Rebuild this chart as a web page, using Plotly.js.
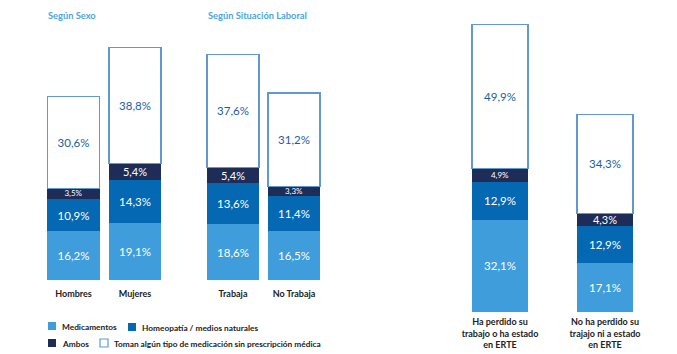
<!DOCTYPE html>
<html>
<head>
<meta charset="utf-8">
<script src="https://cdn.plot.ly/plotly-3.0.1.min.js"></script>
<style>html,body{margin:0;padding:0;background:#fff;}#chart{width:677px;height:354px;}</style>
</head>
<body>
<div id="chart"></div>
<script>
// ---- data ----
const sexoCats = ['Hombres', 'Mujeres'];
const laboralCats = ['Trabaja', 'No Trabaja'];
const erteCats = ['Ha perdido su<br>trabajo o ha estado<br>en ERTE', 'No ha perdido su<br>trajajo ni a estado<br>en ERTE'];
const medicamentos   = [16.2, 19.1, 18.6, 16.5, 32.1, 17.1];
const homeopatia     = [10.9, 14.3, 13.6, 11.4, 12.9, 12.9];
const ambos          = [3.5, 5.4, 5.4, 3.3, 4.9, 4.3];
const sinPrescripcion = [30.6, 38.8, 37.6, 31.2, 49.9, 34.3];
const seriesNames = ['Medicamentos', 'Homeopatía / medios naturales', 'Ambos', 'Toman algún tipo de medicación sin prescripción médica'];
const groupTitles = ['Según Sexo', 'Según Situación Laboral'];

// ---- style ----
const W = 677, H = 354;
const FONT = 'Lato, "Open Sans", sans-serif';
const colors = ['#3f9ddb', '#0468b3', '#1e2d57', '#ffffff'];
const borderColor = '#6199cc';
const textColors = ['#ffffff', '#ffffff', '#ffffff', '#1a5e9f'];
const ambosSizes = [8, 11, 11, 8, 8, 11];

const fmt = v => v.toFixed(1).replace('.', ',') + '%';
const series = [medicamentos, homeopatia, ambos, sinPrescripcion];
const groups = [
  {cats: sexoCats, idx: [0, 1], xa: 'x', ya: 'y', w: 0.85},
  {cats: laboralCats, idx: [2, 3], xa: 'x2', ya: 'y', w: 0.85},
  {cats: erteCats, idx: [4, 5], xa: 'x3', ya: 'y2', w: 0.53}
];

const traces = [];
groups.forEach(g => {
  series.forEach((s, si) => {
    const vals = g.idx.map(i => s[i]);
    const sizes = g.idx.map(i => si === 2 ? ambosSizes[i] : 11.5);
    traces.push({
      type: 'bar',
      x: g.cats,
      y: vals,
      width: g.w,
      xaxis: g.xa,
      yaxis: g.ya,
      name: seriesNames[si],
      showlegend: false,
      marker: {color: colors[si], line: {color: si === 3 ? borderColor : colors[si], width: si === 3 ? 1.4 : 0}},
      text: vals.map(fmt),
      textposition: 'inside',
      insidetextanchor: 'middle',
      constraintext: 'none',
      textangle: 0,
      textfont: {family: FONT, size: sizes, color: textColors[si]},
      hoverinfo: 'skip'
    });
  });
});

const px = v => v / W;
const py = v => 1 - v / H;

const tickFont = {family: FONT, size: 9, color: '#222222', weight: 'bold'};
const xBase = {type: 'category', showgrid: false, zeroline: false, showline: false, ticks: '', tickfont: tickFont, fixedrange: true};

const shapes = [];
const annotations = [];
// group titles
annotations.push({xref: 'paper', yref: 'paper', x: px(46), y: py(15), xanchor: 'left', yanchor: 'middle', text: '<b>' + groupTitles[0] + '</b>', showarrow: false, font: {family: FONT, size: 9.3, color: '#4aa6e0'}});
annotations.push({xref: 'paper', yref: 'paper', x: px(206), y: py(15), xanchor: 'left', yanchor: 'middle', text: '<b>' + groupTitles[1] + '</b>', showarrow: false, font: {family: FONT, size: 9.3, color: '#4aa6e0'}});
// legend
const legendItems = [
  {si: 0, x: 48, y: 326},
  {si: 1, x: 128, y: 327},
  {si: 2, x: 48, y: 343},
  {si: 3, x: 100, y: 343}
];
legendItems.forEach(it => {
  shapes.push({type: 'rect', xref: 'paper', yref: 'paper', x0: px(it.x), x1: px(it.x + 8), y0: py(it.y + 4), y1: py(it.y - 4),
    fillcolor: colors[it.si], line: {color: it.si === 3 ? borderColor : colors[it.si], width: it.si === 3 ? 1.2 : 0}});
  annotations.push({xref: 'paper', yref: 'paper', x: px(it.x + 12), y: py(it.y + 0.5), xanchor: 'left', yanchor: 'middle', showarrow: false,
    text: '<b>' + seriesNames[it.si] + '</b>', font: {family: FONT, size: 8.3, color: '#222222'}});
});

const layout = {
  width: W, height: H,
  margin: {l: 0, r: 0, t: 0, b: 0},
  paper_bgcolor: '#ffffff', plot_bgcolor: '#ffffff',
  barmode: 'stack',
  showlegend: false,
  hovermode: false,
  xaxis: Object.assign({}, xBase, {domain: [px(42.75), px(165.75)], anchor: 'y', ticklabelstandoff: 7}),
  xaxis2: Object.assign({}, xBase, {domain: [px(202.5), px(324.5)], anchor: 'y', ticklabelstandoff: 7}),
  xaxis3: Object.assign({}, xBase, {domain: [px(447.5), px(657.5)], anchor: 'y2', ticklabelstandoff: 3}),
  yaxis: {domain: [py(280), py(40)], range: [0, 80], visible: false, fixedrange: true},
  yaxis2: {domain: [py(312), py(24)], range: [0, 100], visible: false, fixedrange: true},
  shapes: shapes,
  annotations: annotations,
  font: {family: FONT}
};

Plotly.newPlot('chart', traces, layout, {displayModeBar: false, staticPlot: true});
</script>
</body>
</html>
